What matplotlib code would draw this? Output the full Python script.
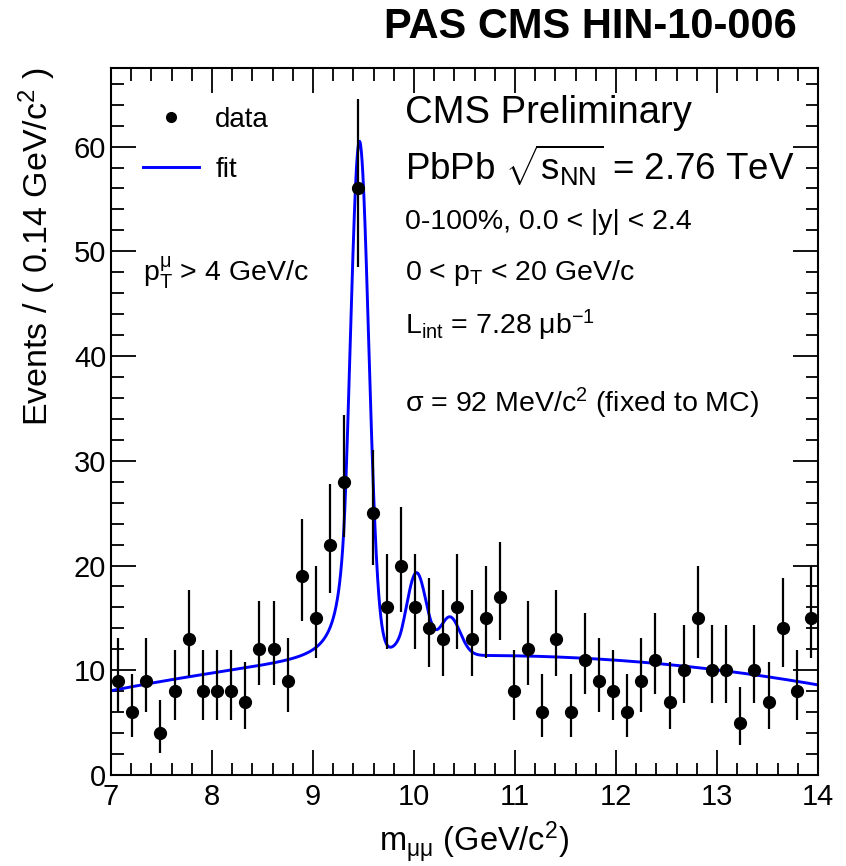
import numpy as np
import matplotlib.pyplot as plt
from matplotlib.lines import Line2D

plt.rcParams['font.family'] = ['Liberation Sans', 'DejaVu Sans']
plt.rcParams['mathtext.fontset'] = 'custom'
plt.rcParams['mathtext.rm'] = 'Liberation Sans'
plt.rcParams['mathtext.it'] = 'Liberation Sans'
plt.rcParams['mathtext.bf'] = 'Liberation Sans:bold'

# dimuon mass histogram, 50 bins of 0.14 GeV from 7 to 14
m_lo, m_hi, n_bins = 7.0, 14.0, 50
counts = [9, 6, 9, 4, 8, 13, 8, 8, 8, 7,
          12, 12, 9, 19, 15, 22, 28, 56, 25, 16,
          20, 16, 14, 13, 16, 13, 15, 17, 8, 12,
          6, 13, 6, 11, 9, 8, 6, 9, 11, 7,
          10, 15, 10, 10, 5, 10, 7, 14, 8, 15]

# fit: three Upsilon states (Crystal Ball) + quadratic background
masses = [9.460, 10.023, 10.355]
yields = [49.3, 7.8, 3.7]
sigma_1s = 0.092
cb_alpha, cb_n = 1.5, 2.0
bkg_c0, bkg_c1, bkg_c2, bkg_x0 = 11.4, 0.086, -0.253, 10.5

edges = np.linspace(m_lo, m_hi, n_bins + 1)
centers = 0.5 * (edges[1:] + edges[:-1])
n = np.array(counts, dtype=float)

# approximate Poisson (Gehrels) intervals
err_hi = 1 + np.sqrt(n + 0.75)
err_lo = n - n * (1 - 1 / (9 * n) - 1 / (3 * np.sqrt(n))) ** 3


def crystal_ball(x, m, s, a, nn):
    t = (x - m) / s
    A = (nn / a) ** nn * np.exp(-a * a / 2)
    B = nn / a - a
    out = np.exp(-t * t / 2)
    tail = t < -a
    out[tail] = A * (B - t[tail]) ** (-nn)
    return out


x = np.linspace(m_lo, m_hi, 2000)
fit = bkg_c0 + bkg_c1 * (x - bkg_x0) + bkg_c2 * (x - bkg_x0) ** 2
for m, y in zip(masses, yields):
    fit = fit + y * crystal_ball(x, m, sigma_1s * m / masses[0], cb_alpha, cb_n)

fig = plt.figure(figsize=(8.46, 8.66), dpi=100)
ax = fig.add_axes([111 / 846, 1 - 775 / 866, 707 / 846, 707 / 866])

ax.plot(x, fit, color='#0000ff', lw=2.1, zorder=2)
ax.errorbar(centers, n, yerr=[err_lo, err_hi], fmt='o', color='black',
            ms=8.5, elinewidth=1.6, capsize=0, zorder=3)

ax.set_xlim(m_lo, m_hi)
ax.set_ylim(0, 67.5)
ax.set_xticks(np.arange(7, 15, 1))
ax.set_xticks(np.arange(7, 14.01, 0.2), minor=True)
ax.set_yticks(np.arange(0, 61, 10))
ax.set_yticks(np.arange(0, 67, 2), minor=True)
ax.tick_params(which='both', direction='in', top=True, right=True,
               labelsize=21, width=1.3)
ax.tick_params(which='major', length=18)
ax.tick_params(which='minor', length=9)
ax.tick_params(axis='x', pad=6)
for s in ax.spines.values():
    s.set_linewidth(1.5)

ax.set_xlabel(r'm$_{\mu\mu}$ (GeV/c$^{2}$)', fontsize=23.5)
ax.xaxis.set_label_coords(0.513, -0.062)
ax.set_ylabel(r'Events / ( 0.14 GeV/c$^{2}$ )', fontsize=24.5, loc='top')
ax.yaxis.set_label_coords(-0.075, 1.0)

handles = [Line2D([], [], marker='o', ls='none', color='black', ms=7),
           Line2D([], [], color='#0000ff', lw=2.1)]
ax.legend(handles, ['data', 'fit'], loc='upper left', bbox_to_anchor=(0.01, 0.98),
          frameon=False, fontsize=20, handlelength=2.0, handletextpad=0.6,
          labelspacing=0.85)

tx = 0.416
ax.text(tx, 0.936, 'CMS Preliminary', transform=ax.transAxes, fontsize=27.5, va='center')
ax.text(tx, 0.863, r'PbPb $\sqrt{\mathrm{s}_{\mathrm{NN}}}$ = 2.76 TeV',
        transform=ax.transAxes, fontsize=26.5, va='center')
ax.text(tx, 0.782, '0-100%, 0.0 < |y| < 2.4', transform=ax.transAxes, fontsize=20.5, va='center')
ax.text(tx, 0.710, r'0 < p$_{\mathrm{T}}$ < 20 GeV/c', transform=ax.transAxes, fontsize=20.5, va='center')
ax.text(tx, 0.636, r'L$_{\mathrm{int}}$ = 7.28 $\mu$b$^{-1}$', transform=ax.transAxes,
        fontsize=20.5, va='center')
ax.text(tx, 0.526, r'$\sigma$ = 92 MeV/c$^{2}$ (fixed to MC)', transform=ax.transAxes,
        fontsize=20.5, va='center')
ax.text(0.045, 0.710, r'p$_{\mathrm{T}}^{\mu}$ > 4 GeV/c', transform=ax.transAxes,
        fontsize=20.5, va='center')

fig.text(797 / 846, 1 - 27 / 866, 'PAS CMS HIN-10-006', fontsize=30,
         fontweight='bold', ha='right', va='center')

fig.savefig('out.png', dpi=100)
